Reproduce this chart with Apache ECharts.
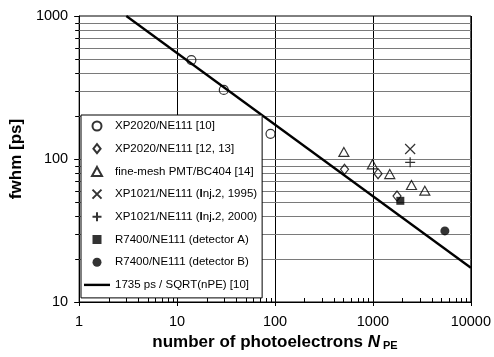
<!DOCTYPE html>
<html>
<head>
<meta charset="utf-8">
<script src="https://cdn.jsdelivr.net/npm/echarts@6/dist/echarts.min.js"></script>
<style>
  html, body { margin: 0; padding: 0; background: #fff; }
  #chart { width: 494px; height: 357px; }
</style>
</head>
<body>
<div id="chart"></div>
<script>
// values (x = photoelectrons, y = fwhm in ps)
const xp2020_10 = [[14, 492], [30, 304], [90, 150]];
const xp2020_12 = [[513, 84.7], [1128, 78.9], [1763, 55.1]];
const fineMesh = [[505, 112], [988, 91.8], [1486, 78.5], [2477, 65.8], [3390, 60]];
const xp1021_95 = [[2400, 117.5]];
const xp1021_00 = [[2400, 94.8]];
const detA = [[1905, 51]];
const detB = [[5430, 31.4]];
const fitLine = [[3.03, 1000], [10000, 17.35]];

// minor grid / tick positions
const yGridVals = [20, 30, 40, 50, 60, 70, 80, 90, 100, 200, 300, 400, 500, 600, 700, 800, 900];
const xMinorVals = [2, 3, 4, 5, 6, 7, 8, 9, 20, 30, 40, 50, 60, 70, 80, 90,
  200, 300, 400, 500, 600, 700, 800, 900, 2000, 3000, 4000, 5000, 6000, 7000, 8000, 9000];

const names = [
  'XP2020/NE111 [10]',
  'XP2020/NE111 [12, 13]',
  'fine-mesh PMT/BC404 [14]',
  'XP1021/NE111 (Inj.2, 1995)',
  'XP1021/NE111 (Inj.2, 2000)',
  'R7400/NE111 (detector A)',
  'R7400/NE111 (detector B)',
  '1735 ps / SQRT(nPE) [10]'
];

const SYM_DIAMOND = 'path://M4,0L8,5L4,10L0,5Z';
const SYM_TRIANGLE = 'path://M5,0L10,9L0,9Z';
const SYM_CROSS = 'path://M0,0L10,10M10,0L0,10';
const SYM_PLUS = 'path://M5,0L5,10M0,5L10,5';
const SYM_SQUARE = 'path://M0,0L8,0L8,8L0,8Z';
const SYM_BAR = 'path://M0,0L26,0L26,2.4L0,2.4Z';

const FONT = '"Liberation Sans", Arial, sans-serif';
const hollow = { color: 'rgba(0,0,0,0)', borderColor: '#000', borderWidth: 1.2 };

function scatter(name, data, symbol, size, style) {
  return {
    type: 'scatter', name: name, data: data, symbol: symbol, symbolSize: size,
    symbolKeepAspect: true, itemStyle: style, z: 3, silent: true
  };
}

const chart = echarts.init(document.getElementById('chart'));

chart.setOption({
  animation: false,
  grid: {
    left: 77, right: 19, top: 16, bottom: 55,
    show: true, borderColor: '#000', borderWidth: 1
  },
  legend: {
    data: [
      { name: names[0], icon: 'circle' },
      { name: names[1], icon: SYM_DIAMOND },
      { name: names[2], icon: SYM_TRIANGLE },
      { name: names[3], icon: SYM_CROSS },
      { name: names[4], icon: SYM_PLUS },
      { name: names[5], icon: SYM_SQUARE },
      { name: names[6], icon: 'circle' },
      { name: names[7], icon: SYM_BAR, itemStyle: { color: '#000', borderWidth: 0 } }
    ],
    orient: 'vertical',
    left: 81, top: 115,
    padding: [4, 5, 6, 3],
    itemWidth: 26, itemHeight: 9, itemGap: 8.7,
    symbolKeepAspect: true,
    backgroundColor: '#fff',
    borderColor: '#000', borderWidth: 1,
    z: 6,
    textStyle: {
      fontFamily: FONT, fontSize: 11.5, color: '#000', lineHeight: 14,
      rich: { b: { fontFamily: FONT, fontSize: 11.5, fontWeight: 'bold', color: '#000' } }
    },
    formatter: function (n) { return n.replace('(Inj.', '({b|I}nj{b|.}'); }
  },
  xAxis: {
    type: 'log', logBase: 10, min: 1, max: 10000,
    name: 'number of photoelectrons {n|N}{s|PE}',
    nameLocation: 'middle', nameGap: 30,
    nameTextStyle: {
      fontFamily: FONT, fontSize: 17, fontWeight: 'bold', color: '#000',
      rich: {
        n: { fontFamily: FONT, fontSize: 17, fontWeight: 'bold', fontStyle: 'italic', color: '#000' },
        s: { fontFamily: FONT, fontSize: 11, fontWeight: 'bold', color: '#000', padding: [8, 0, 0, 3] }
      }
    },
    axisLine: { lineStyle: { color: '#000', width: 1 } },
    axisTick: { show: true, length: 4, lineStyle: { color: '#000' } },
    axisLabel: {
      fontFamily: FONT, fontSize: 14.5, color: '#000', margin: 12,
      formatter: v => String(v)
    },
    splitLine: { show: true, lineStyle: { color: '#000', width: 1 } }
  },
  yAxis: {
    type: 'log', logBase: 10, min: 10, max: 1000,
    name: 'fwhm [ps]',
    nameLocation: 'middle', nameGap: 47,
    nameTextStyle: { fontFamily: FONT, fontSize: 17, fontWeight: 'bold', color: '#000' },
    axisLine: { lineStyle: { color: '#000', width: 1 } },
    axisTick: { show: true, length: 5, lineStyle: { color: '#000' } },
    axisLabel: {
      fontFamily: FONT, fontSize: 14.5, color: '#000', margin: 11,
      formatter: v => String(v)
    },
    splitLine: { show: false }
  },
  series: [
    {
      // horizontal grid lines at every decade step, plus small outside ticks
      type: 'custom', silent: true, z: 1,
      data: yGridVals.map(v => [1, v]),
      renderItem: function (params, api) {
        const cs = params.coordSys;
        const y = Math.round(api.coord([1, api.value(1)])[1]) + 0.5;
        return {
          type: 'group',
          children: [
            { type: 'line', shape: { x1: cs.x, y1: y, x2: cs.x + cs.width, y2: y },
              style: { stroke: '#7a7a7a', lineWidth: 1 } },
            { type: 'line', shape: { x1: cs.x - 4, y1: y, x2: cs.x, y2: y },
              style: { stroke: '#000', lineWidth: 1 } }
          ]
        };
      }
    },
    {
      // minor ticks on the x axis, pointing up
      type: 'custom', silent: true, z: 1,
      data: xMinorVals.map(v => [v, 10]),
      renderItem: function (params, api) {
        const cs = params.coordSys;
        const x = Math.round(api.coord([api.value(0), 10])[0]) + 0.5;
        const yb = cs.y + cs.height;
        return {
          type: 'line', shape: { x1: x, y1: yb, x2: x, y2: yb - 4 },
          style: { stroke: '#000', lineWidth: 1 }
        };
      }
    },
    scatter(names[0], xp2020_10, 'circle', 9, hollow),
    scatter(names[1], xp2020_12, SYM_DIAMOND, 10, hollow),
    scatter(names[2], fineMesh, SYM_TRIANGLE, 10, hollow),
    scatter(names[3], xp1021_95, SYM_CROSS, 10, hollow),
    scatter(names[4], xp1021_00, SYM_PLUS, 10, hollow),
    scatter(names[5], detA, SYM_SQUARE, 8, { color: '#000' }),
    scatter(names[6], detB, 'circle', 9, { color: '#000' }),
    {
      type: 'line', name: names[7], data: fitLine,
      symbol: 'none', silent: true, z: 2,
      lineStyle: { color: '#000', width: 2.3 },
      itemStyle: { color: '#000' }
    }
  ]
});
</script>
</body>
</html>
